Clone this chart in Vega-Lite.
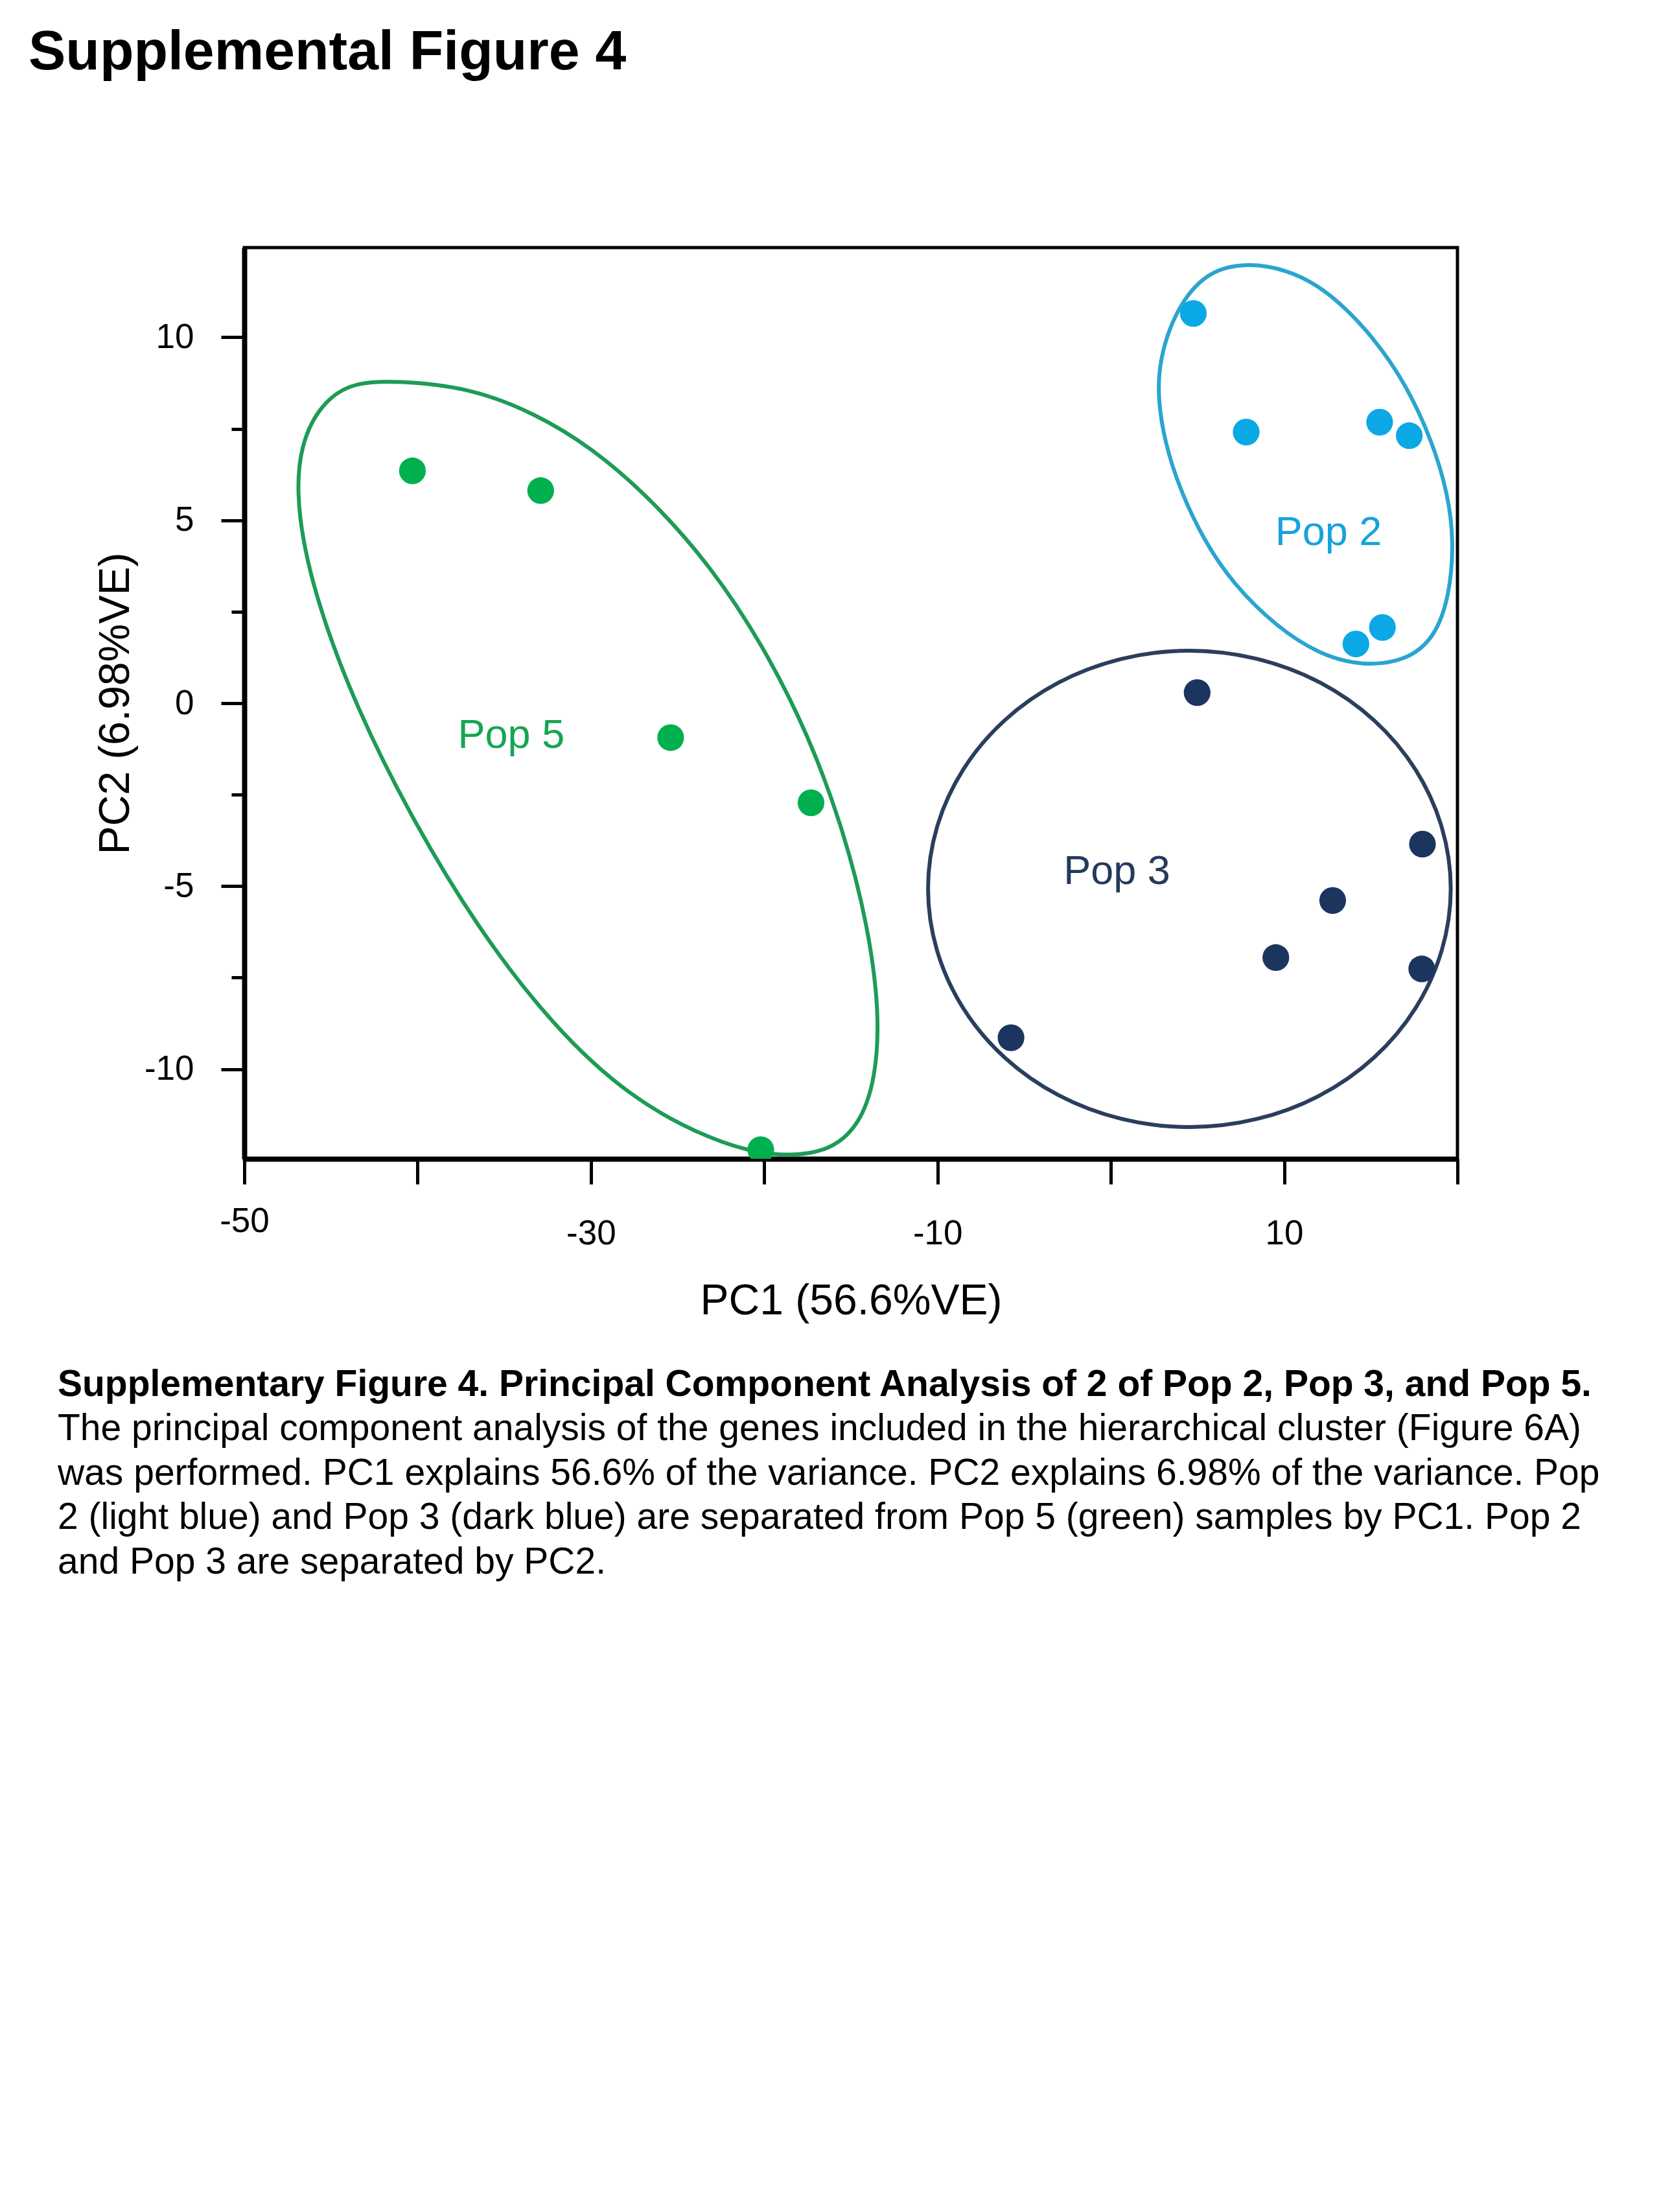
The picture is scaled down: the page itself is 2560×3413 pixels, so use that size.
{
  "$schema": "https://vega.github.io/schema/vega-lite/v6.json",
  "background": "white",
  "padding": {"left": 44, "top": 37, "right": 40, "bottom": 40},
  "title": {
    "text": "Supplemental Figure 4",
    "anchor": "start",
    "frame": "group",
    "dx": -333,
    "fontSize": 86,
    "font": "Liberation Sans",
    "fontWeight": "bold",
    "color": "black",
    "offset": 255
  },
  "datasets": {
    "points": [
      {"pop": "Pop 5", "pc1": -40.3, "pc2": 6.35},
      {"pop": "Pop 5", "pc1": -32.9, "pc2": 5.81},
      {"pop": "Pop 5", "pc1": -25.4, "pc2": -0.94},
      {"pop": "Pop 5", "pc1": -17.3, "pc2": -2.72},
      {"pop": "Pop 5", "pc1": -20.2, "pc2": -12.2},
      {"pop": "Pop 2", "pc1": 4.76, "pc2": 10.65},
      {"pop": "Pop 2", "pc1": 7.81, "pc2": 7.41},
      {"pop": "Pop 2", "pc1": 15.51, "pc2": 7.68},
      {"pop": "Pop 2", "pc1": 17.22, "pc2": 7.31},
      {"pop": "Pop 2", "pc1": 15.67, "pc2": 2.07},
      {"pop": "Pop 2", "pc1": 14.14, "pc2": 1.62},
      {"pop": "Pop 3", "pc1": 4.98, "pc2": 0.29},
      {"pop": "Pop 3", "pc1": 17.98, "pc2": -3.85},
      {"pop": "Pop 3", "pc1": 12.8, "pc2": -5.39},
      {"pop": "Pop 3", "pc1": 9.52, "pc2": -6.95},
      {"pop": "Pop 3", "pc1": 17.94, "pc2": -7.26},
      {"pop": "Pop 3", "pc1": -5.76, "pc2": -9.14}
    ],
    "outlines": [
      {"pop": "Pop 5", "i": 1, "pc1": -41.21, "pc2": 8.81},
      {"pop": "Pop 5", "i": 2, "pc1": -37.13, "pc2": 8.64},
      {"pop": "Pop 5", "i": 3, "pc1": -33.28, "pc2": 7.94},
      {"pop": "Pop 5", "i": 4, "pc1": -29.88, "pc2": 6.96},
      {"pop": "Pop 5", "i": 5, "pc1": -26.48, "pc2": 5.56},
      {"pop": "Pop 5", "i": 6, "pc1": -23.08, "pc2": 3.74},
      {"pop": "Pop 5", "i": 7, "pc1": -20.14, "pc2": 1.64},
      {"pop": "Pop 5", "i": 8, "pc1": -17.42, "pc2": -0.88},
      {"pop": "Pop 5", "i": 9, "pc1": -15.38, "pc2": -3.54},
      {"pop": "Pop 5", "i": 10, "pc1": -14.02, "pc2": -6.06},
      {"pop": "Pop 5", "i": 11, "pc1": -13.34, "pc2": -8.45},
      {"pop": "Pop 5", "i": 12, "pc1": -13.57, "pc2": -10.26},
      {"pop": "Pop 5", "i": 13, "pc1": -14.48, "pc2": -11.52},
      {"pop": "Pop 5", "i": 14, "pc1": -16.29, "pc2": -12.3},
      {"pop": "Pop 5", "i": 15, "pc1": -19.69, "pc2": -12.4},
      {"pop": "Pop 5", "i": 16, "pc1": -23.08, "pc2": -11.94},
      {"pop": "Pop 5", "i": 17, "pc1": -27.62, "pc2": -10.83},
      {"pop": "Pop 5", "i": 18, "pc1": -32.15, "pc2": -8.86},
      {"pop": "Pop 5", "i": 19, "pc1": -36.68, "pc2": -6.06},
      {"pop": "Pop 5", "i": 20, "pc1": -40.53, "pc2": -2.98},
      {"pop": "Pop 5", "i": 21, "pc1": -43.47, "pc2": -0.18},
      {"pop": "Pop 5", "i": 22, "pc1": -45.74, "pc2": 2.62},
      {"pop": "Pop 5", "i": 23, "pc1": -46.99, "pc2": 5.14},
      {"pop": "Pop 5", "i": 24, "pc1": -46.87, "pc2": 7.1},
      {"pop": "Pop 5", "i": 25, "pc1": -45.29, "pc2": 8.36},
      {"pop": "Pop 5", "i": 26, "pc1": -43.47, "pc2": 8.78},
      {"pop": "Pop 2", "i": 1, "pc1": 7.33, "pc2": 12.05},
      {"pop": "Pop 2", "i": 2, "pc1": 10.2, "pc2": 11.88},
      {"pop": "Pop 2", "i": 3, "pc1": 12.69, "pc2": 11.22},
      {"pop": "Pop 2", "i": 4, "pc1": 15.19, "pc2": 9.99},
      {"pop": "Pop 2", "i": 5, "pc1": 17.06, "pc2": 8.69},
      {"pop": "Pop 2", "i": 6, "pc1": 18.55, "pc2": 7.15},
      {"pop": "Pop 2", "i": 7, "pc1": 19.42, "pc2": 5.77},
      {"pop": "Pop 2", "i": 8, "pc1": 19.8, "pc2": 4.47},
      {"pop": "Pop 2", "i": 9, "pc1": 19.55, "pc2": 2.93},
      {"pop": "Pop 2", "i": 10, "pc1": 18.68, "pc2": 1.78},
      {"pop": "Pop 2", "i": 11, "pc1": 17.06, "pc2": 1.16},
      {"pop": "Pop 2", "i": 12, "pc1": 14.56, "pc2": 1.01},
      {"pop": "Pop 2", "i": 13, "pc1": 12.07, "pc2": 1.32},
      {"pop": "Pop 2", "i": 14, "pc1": 9.58, "pc2": 2.08},
      {"pop": "Pop 2", "i": 15, "pc1": 7.08, "pc2": 3.24},
      {"pop": "Pop 2", "i": 16, "pc1": 5.34, "pc2": 4.47},
      {"pop": "Pop 2", "i": 17, "pc1": 3.97, "pc2": 5.85},
      {"pop": "Pop 2", "i": 18, "pc1": 3.1, "pc2": 7.15},
      {"pop": "Pop 2", "i": 19, "pc1": 2.72, "pc2": 8.31},
      {"pop": "Pop 2", "i": 20, "pc1": 2.78, "pc2": 9.31},
      {"pop": "Pop 2", "i": 21, "pc1": 3.6, "pc2": 10.61},
      {"pop": "Pop 2", "i": 22, "pc1": 5.21, "pc2": 11.68},
      {"pop": "Pop 3", "i": 1, "pc1": 19.79, "pc2": -5.07},
      {"pop": "Pop 3", "i": 2, "pc1": 19.26, "pc2": -6.77},
      {"pop": "Pop 3", "i": 3, "pc1": 17.73, "pc2": -8.37},
      {"pop": "Pop 3", "i": 4, "pc1": 15.32, "pc2": -9.73},
      {"pop": "Pop 3", "i": 5, "pc1": 12.16, "pc2": -10.78},
      {"pop": "Pop 3", "i": 6, "pc1": 8.48, "pc2": -11.43},
      {"pop": "Pop 3", "i": 7, "pc1": 4.53, "pc2": -11.66},
      {"pop": "Pop 3", "i": 8, "pc1": 0.58, "pc2": -11.43},
      {"pop": "Pop 3", "i": 9, "pc1": -3.1, "pc2": -10.78},
      {"pop": "Pop 3", "i": 10, "pc1": -6.26, "pc2": -9.73},
      {"pop": "Pop 3", "i": 11, "pc1": -8.67, "pc2": -8.37},
      {"pop": "Pop 3", "i": 12, "pc1": -10.2, "pc2": -6.77},
      {"pop": "Pop 3", "i": 13, "pc1": -10.72, "pc2": -5.07},
      {"pop": "Pop 3", "i": 14, "pc1": -10.2, "pc2": -3.37},
      {"pop": "Pop 3", "i": 15, "pc1": -8.67, "pc2": -1.78},
      {"pop": "Pop 3", "i": 16, "pc1": -6.26, "pc2": -0.42},
      {"pop": "Pop 3", "i": 17, "pc1": -3.1, "pc2": 0.63},
      {"pop": "Pop 3", "i": 18, "pc1": 0.58, "pc2": 1.28},
      {"pop": "Pop 3", "i": 19, "pc1": 4.53, "pc2": 1.51},
      {"pop": "Pop 3", "i": 20, "pc1": 8.48, "pc2": 1.28},
      {"pop": "Pop 3", "i": 21, "pc1": 12.16, "pc2": 0.63},
      {"pop": "Pop 3", "i": 22, "pc1": 15.32, "pc2": -0.42},
      {"pop": "Pop 3", "i": 23, "pc1": 17.73, "pc2": -1.78},
      {"pop": "Pop 3", "i": 24, "pc1": 19.26, "pc2": -3.37}
    ],
    "labels": [
      {"pop": "Pop 5", "pc1": -34.6, "pc2": -0.88},
      {"pop": "Pop 3", "pc1": 0.35, "pc2": -4.6},
      {"pop": "Pop 2", "pc1": 12.56, "pc2": 4.66}
    ]
  },
  "vconcat": [
    {
      "width": 1872,
      "height": 1406,
      "title": {
        "text": "Supplementary Figure 4. Principal Component Analysis of 2 of Pop 2, Pop 3, and Pop 5.",
        "subtitle": [
          "The principal component analysis of the genes included in the hierarchical cluster (Figure 6A)",
          "was performed. PC1 explains 56.6% of the variance. PC2 explains 6.98% of the variance. Pop",
          "2 (light blue) and Pop 3 (dark blue) are separated from Pop 5 (green) samples by PC1. Pop 2",
          "and Pop 3 are separated by PC2."
        ],
        "orient": "bottom",
        "anchor": "start",
        "frame": "group",
        "dx": -288,
        "offset": 69,
        "font": "Liberation Sans",
        "fontSize": 57,
        "fontWeight": "bold",
        "color": "black",
        "subtitleFont": "Liberation Sans",
        "subtitleFontSize": 57,
        "subtitleFontWeight": "normal",
        "subtitleColor": "black",
        "subtitleLineHeight": 68.5,
        "subtitlePadding": 11
      },
      "encoding": {
        "x": {
          "field": "pc1",
          "type": "quantitative",
          "scale": {"domain": [-50, 20], "nice": false, "zero": false},
          "axis": {
            "title": "PC1 (56.6%VE)",
            "values": [-50, -40, -30, -20, -10, 0, 10, 20],
            "labelExpr": "indexof([-50, -30, -10, 10], datum.value) >= 0 ? '' + datum.value : ''",
            "grid": false,
            "tickSize": 39,
            "tickWidth": 5,
            "tickColor": "black",
            "domainColor": "black",
            "domainWidth": 8,
            "labelFont": "Liberation Sans",
            "labelFontSize": 53,
            "labelColor": "black",
            "labelPadding": {"condition": {"test": "datum.value == -50", "value": 31}, "value": 50},
            "labelFlush": false,
            "labelOverlap": false,
            "titleFont": "Liberation Sans",
            "titleFontSize": 66,
            "titleFontWeight": "normal",
            "titleColor": "black",
            "titlePadding": 45
          }
        },
        "y": {
          "field": "pc2",
          "type": "quantitative",
          "scale": {"domain": [-12.45, 12.45], "nice": false, "zero": false},
          "axis": {
            "title": "PC2 (6.98%VE)",
            "values": [-12.5, -10, -7.5, -5, -2.5, 0, 2.5, 5, 7.5, 10, 12.5],
            "labelExpr": "datum.value % 5 == 0 ? '' + datum.value : ''",
            "grid": false,
            "tickSize": {"condition": {"test": "datum.value % 5 == 0", "value": 36}, "value": 20},
            "tickWidth": 5,
            "tickColor": "black",
            "domainColor": "black",
            "domainWidth": 8,
            "labelFont": "Liberation Sans",
            "labelFontSize": 53,
            "labelColor": "black",
            "labelPadding": 42,
            "labelFlush": false,
            "labelOverlap": false,
            "titleFont": "Liberation Sans",
            "titleFontSize": 66,
            "titleFontWeight": "normal",
            "titleColor": "black",
            "titlePadding": 10
          }
        }
      },
      "layer": [
        {
          "data": {"name": "outlines"},
          "mark": {"type": "line", "interpolate": "basis-closed", "strokeWidth": 6},
          "encoding": {
            "color": {
              "field": "pop",
              "type": "nominal",
              "scale": {"domain": ["Pop 2", "Pop 3", "Pop 5"], "range": ["#2aa5cf", "#2b3e5d", "#1e9b57"]},
              "legend": null
            },
            "order": {"field": "i", "type": "quantitative"}
          }
        },
        {
          "data": {"name": "points"},
          "mark": {"type": "circle", "size": 1700, "opacity": 1, "clip": true},
          "encoding": {
            "color": {
              "field": "pop",
              "type": "nominal",
              "scale": {"domain": ["Pop 2", "Pop 3", "Pop 5"], "range": ["#0aa9e6", "#1b355e", "#00b04f"]},
              "legend": null
            }
          }
        },
        {
          "data": {"name": "labels"},
          "mark": {"type": "text", "font": "Liberation Sans", "fontSize": 63, "align": "center", "baseline": "middle"},
          "encoding": {
            "text": {"field": "pop", "type": "nominal"},
            "color": {
              "field": "pop",
              "type": "nominal",
              "scale": {"domain": ["Pop 2", "Pop 3", "Pop 5"], "range": ["#17a2dc", "#243a5c", "#16a552"]},
              "legend": null
            }
          }
        }
      ],
      "resolve": {"scale": {"color": "independent"}}
    }
  ],
  "config": {
    "font": "Liberation Sans",
    "view": {"stroke": "black", "strokeWidth": 5}
  }
}
